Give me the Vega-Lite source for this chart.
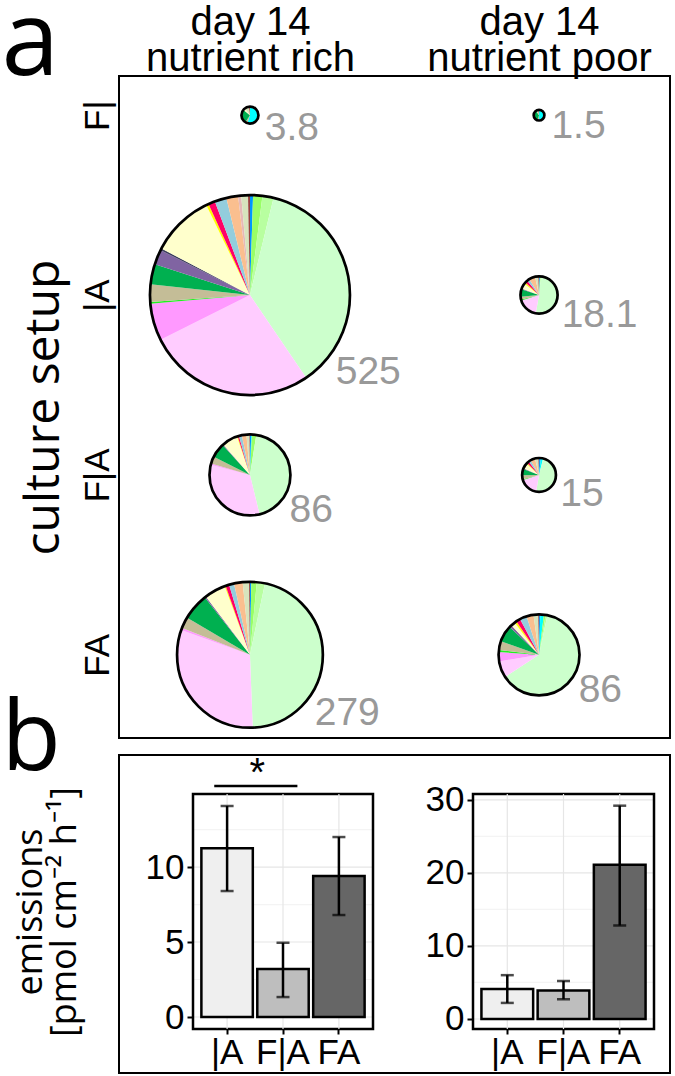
{
  "$schema": "https://vega.github.io/schema/vega-lite/v6.json",
  "padding": {"left": 0, "top": -10, "right": 0, "bottom": 0},
  "bounds": "flush",
  "spacing": 17,
  "config": {
    "view": {"stroke": "black", "strokeWidth": 2},
    "font": "Liberation Sans",
    "axis": {"grid": false, "labelColor": "black", "titleColor": "black", "tickColor": "black", "domainColor": "black", "titleFontWeight": "normal", "labelFont": "Liberation Sans"}
  },
  "datasets": {
    "pies": [
      {"pie": "rF", "cond": "nutrient rich", "setup": "F|", "total": 3.8},
      {"pie": "rA", "cond": "nutrient rich", "setup": "|A", "total": 525},
      {"pie": "rFsA", "cond": "nutrient rich", "setup": "F|A", "total": 86},
      {"pie": "rFA", "cond": "nutrient rich", "setup": "FA", "total": 279},
      {"pie": "pF", "cond": "nutrient poor", "setup": "F|", "total": 1.5},
      {"pie": "pA", "cond": "nutrient poor", "setup": "|A", "total": 18.1},
      {"pie": "pFsA", "cond": "nutrient poor", "setup": "F|A", "total": 15},
      {"pie": "pFA", "cond": "nutrient poor", "setup": "FA", "total": 86}
    ],
    "slices": [
      {"pie": "rA", "taxon": "t01", "pct": 0.5},
      {"pie": "rA", "taxon": "t03", "pct": 1.5},
      {"pie": "rA", "taxon": "t04", "pct": 1.8},
      {"pie": "rA", "taxon": "t05", "pct": 36.7},
      {"pie": "rA", "taxon": "t06", "pct": 27.1},
      {"pie": "rA", "taxon": "t07", "pct": 6.0},
      {"pie": "rA", "taxon": "t08", "pct": 0.3},
      {"pie": "rA", "taxon": "t09", "pct": 2.8},
      {"pie": "rA", "taxon": "t10", "pct": 3.3},
      {"pie": "rA", "taxon": "t11", "pct": 2.4},
      {"pie": "rA", "taxon": "t12", "pct": 0.3},
      {"pie": "rA", "taxon": "t13", "pct": 10.1},
      {"pie": "rA", "taxon": "t14", "pct": 0.4},
      {"pie": "rA", "taxon": "t15", "pct": 1.1},
      {"pie": "rA", "taxon": "t16", "pct": 1.9},
      {"pie": "rA", "taxon": "t17", "pct": 1.9},
      {"pie": "rA", "taxon": "t18", "pct": 0.5},
      {"pie": "rA", "taxon": "t19", "pct": 1.1},
      {"pie": "rA", "taxon": "t20", "pct": 0.3},

      {"pie": "rFA", "taxon": "t01", "pct": 0.3},
      {"pie": "rFA", "taxon": "t03", "pct": 1.2},
      {"pie": "rFA", "taxon": "t04", "pct": 1.8},
      {"pie": "rFA", "taxon": "t05", "pct": 46.1},
      {"pie": "rFA", "taxon": "t06", "pct": 31.1},
      {"pie": "rFA", "taxon": "t07", "pct": 0.5},
      {"pie": "rFA", "taxon": "t09", "pct": 2.5},
      {"pie": "rFA", "taxon": "t10", "pct": 5.9},
      {"pie": "rFA", "taxon": "t11", "pct": 0.3},
      {"pie": "rFA", "taxon": "t13", "pct": 4.7},
      {"pie": "rFA", "taxon": "t14", "pct": 0.2},
      {"pie": "rFA", "taxon": "t15", "pct": 0.8},
      {"pie": "rFA", "taxon": "t16", "pct": 1.1},
      {"pie": "rFA", "taxon": "t17", "pct": 1.9},
      {"pie": "rFA", "taxon": "t19", "pct": 1.4},
      {"pie": "rFA", "taxon": "t20", "pct": 0.2},

      {"pie": "rFsA", "taxon": "t01", "pct": 0.5},
      {"pie": "rFsA", "taxon": "t02", "pct": 0.3},
      {"pie": "rFsA", "taxon": "t03", "pct": 1.7},
      {"pie": "rFsA", "taxon": "t05", "pct": 43.7},
      {"pie": "rFsA", "taxon": "t06", "pct": 32.8},
      {"pie": "rFsA", "taxon": "t07", "pct": 0.6},
      {"pie": "rFsA", "taxon": "t09", "pct": 2.8},
      {"pie": "rFsA", "taxon": "t10", "pct": 5.8},
      {"pie": "rFsA", "taxon": "t11", "pct": 0.3},
      {"pie": "rFsA", "taxon": "t13", "pct": 6.3},
      {"pie": "rFsA", "taxon": "t14", "pct": 0.3},
      {"pie": "rFsA", "taxon": "t15", "pct": 0.5},
      {"pie": "rFsA", "taxon": "t16", "pct": 1.2},
      {"pie": "rFsA", "taxon": "t17", "pct": 1.8},
      {"pie": "rFsA", "taxon": "t19", "pct": 1.2},
      {"pie": "rFsA", "taxon": "t20", "pct": 0.2},

      {"pie": "rF", "taxon": "t02", "pct": 55},
      {"pie": "rF", "taxon": "t09", "pct": 4},
      {"pie": "rF", "taxon": "t10", "pct": 27},
      {"pie": "rF", "taxon": "t13", "pct": 4},
      {"pie": "rF", "taxon": "t19", "pct": 8},
      {"pie": "rF", "taxon": "t20", "pct": 2},

      {"pie": "pF", "taxon": "t02", "pct": 50},
      {"pie": "pF", "taxon": "t09", "pct": 5},
      {"pie": "pF", "taxon": "t10", "pct": 35},
      {"pie": "pF", "taxon": "t19", "pct": 8},
      {"pie": "pF", "taxon": "t20", "pct": 2},

      {"pie": "pA", "taxon": "t01", "pct": 0.8},
      {"pie": "pA", "taxon": "t03", "pct": 0.8},
      {"pie": "pA", "taxon": "t05", "pct": 51.2},
      {"pie": "pA", "taxon": "t06", "pct": 17.5},
      {"pie": "pA", "taxon": "t08", "pct": 0.8},
      {"pie": "pA", "taxon": "t09", "pct": 2.5},
      {"pie": "pA", "taxon": "t10", "pct": 6.4},
      {"pie": "pA", "taxon": "t11", "pct": 0.8},
      {"pie": "pA", "taxon": "t13", "pct": 4.7},
      {"pie": "pA", "taxon": "t14", "pct": 1.4},
      {"pie": "pA", "taxon": "t15", "pct": 2.2},
      {"pie": "pA", "taxon": "t16", "pct": 2.2},
      {"pie": "pA", "taxon": "t17", "pct": 5.3},
      {"pie": "pA", "taxon": "t19", "pct": 2.8},
      {"pie": "pA", "taxon": "t20", "pct": 0.6},

      {"pie": "pFsA", "taxon": "t01", "pct": 1.7},
      {"pie": "pFsA", "taxon": "t02", "pct": 2.2},
      {"pie": "pFsA", "taxon": "t05", "pct": 48.8},
      {"pie": "pFsA", "taxon": "t06", "pct": 17.5},
      {"pie": "pFsA", "taxon": "t08", "pct": 0.8},
      {"pie": "pFsA", "taxon": "t09", "pct": 3.6},
      {"pie": "pFsA", "taxon": "t10", "pct": 6.1},
      {"pie": "pFsA", "taxon": "t11", "pct": 0.8},
      {"pie": "pFsA", "taxon": "t13", "pct": 5.0},
      {"pie": "pFsA", "taxon": "t14", "pct": 1.1},
      {"pie": "pFsA", "taxon": "t15", "pct": 1.9},
      {"pie": "pFsA", "taxon": "t16", "pct": 2.2},
      {"pie": "pFsA", "taxon": "t17", "pct": 4.4},
      {"pie": "pFsA", "taxon": "t19", "pct": 3.3},
      {"pie": "pFsA", "taxon": "t20", "pct": 0.6},

      {"pie": "pFA", "taxon": "t01", "pct": 0.5},
      {"pie": "pFA", "taxon": "t02", "pct": 1.4},
      {"pie": "pFA", "taxon": "t03", "pct": 0.7},
      {"pie": "pFA", "taxon": "t04", "pct": 0.7},
      {"pie": "pFA", "taxon": "t05", "pct": 62.5},
      {"pie": "pFA", "taxon": "t06", "pct": 6.6},
      {"pie": "pFA", "taxon": "t07", "pct": 3.7},
      {"pie": "pFA", "taxon": "t08", "pct": 0.8},
      {"pie": "pFA", "taxon": "t09", "pct": 3.5},
      {"pie": "pFA", "taxon": "t10", "pct": 6.7},
      {"pie": "pFA", "taxon": "t11", "pct": 0.9},
      {"pie": "pFA", "taxon": "t13", "pct": 1.7},
      {"pie": "pFA", "taxon": "t14", "pct": 0.8},
      {"pie": "pFA", "taxon": "t15", "pct": 1.7},
      {"pie": "pFA", "taxon": "t16", "pct": 2.8},
      {"pie": "pFA", "taxon": "t17", "pct": 2.8},
      {"pie": "pFA", "taxon": "t19", "pct": 1.9},
      {"pie": "pFA", "taxon": "t20", "pct": 0.3}
    ],
    "bars": [
      {"cond": "nutrient rich", "setup": "|A", "mean": 11.25, "lo": 8.4, "hi": 14.07},
      {"cond": "nutrient rich", "setup": "F|A", "mean": 3.2, "lo": 1.33, "hi": 4.95},
      {"cond": "nutrient rich", "setup": "FA", "mean": 9.4, "lo": 6.8, "hi": 12.0},
      {"cond": "nutrient poor", "setup": "|A", "mean": 4.1, "lo": 2.2, "hi": 6.0},
      {"cond": "nutrient poor", "setup": "F|A", "mean": 3.9, "lo": 2.7, "hi": 5.2},
      {"cond": "nutrient poor", "setup": "FA", "mean": 21.1, "lo": 12.8, "hi": 29.2}
    ],
    "grid": [
      {"cond": "nutrient rich", "v": 0, "kind": "major"},
      {"cond": "nutrient rich", "v": 2.5, "kind": "minor"},
      {"cond": "nutrient rich", "v": 5, "kind": "major"},
      {"cond": "nutrient rich", "v": 7.5, "kind": "minor"},
      {"cond": "nutrient rich", "v": 10, "kind": "major"},
      {"cond": "nutrient rich", "v": 12.5, "kind": "minor"},
      {"cond": "nutrient poor", "v": 0, "kind": "major"},
      {"cond": "nutrient poor", "v": 5, "kind": "minor"},
      {"cond": "nutrient poor", "v": 10, "kind": "major"},
      {"cond": "nutrient poor", "v": 15, "kind": "minor"},
      {"cond": "nutrient poor", "v": 20, "kind": "major"},
      {"cond": "nutrient poor", "v": 25, "kind": "minor"},
      {"cond": "nutrient poor", "v": 30, "kind": "major"}
    ],
    "sig": [
      {"from": "|A", "to": "F|A", "y": 15.4, "label": "*"}
    ]
  },
  "vconcat": [
    {
      "width": 551,
      "height": 662,
      "view": {"stroke": "black", "strokeWidth": 2},
      "encoding": {
        "x": {
          "field": "cond", "type": "nominal",
          "scale": {"type": "point", "domain": ["nutrient rich", "nutrient poor"], "padding": 0.453, "align": 0.5},
          "axis": {
            "orient": "top", "labelExpr": "['day 14', datum.value]", "labelFontSize": 40, "labelFont": "Liberation Sans",
            "labelLineHeight": 36, "labelPadding": 34, "labelBaseline": "bottom", "labelLimit": 0, "ticks": false, "domain": false, "labelAngle": 0,
            "title": "a", "titleX": -118, "titleY": -2, "titleAngle": 0, "titleAlign": "left", "titleBaseline": "alphabetic",
            "titleFontSize": 104, "titleFont": "Open Sans"
          }
        },
        "y": {
          "field": "setup", "type": "nominal",
          "scale": {"type": "point", "domain": ["F|", "|A", "F|A", "FA"], "padding": 0.34, "align": 0.32},
          "axis": {
            "orient": "left", "labelAngle": 270, "labelAlign": "center", "labelBaseline": "bottom", "labelFontSize": 35,
            "labelPadding": 4, "ticks": false, "domain": false,
            "title": "culture setup", "titleFontSize": 48, "titleFont": "Open Sans", "titlePadding": 12
          }
        }
      },
      "layer": [
        {
          "data": {"name": "slices"},
          "transform": [
            {"lookup": "pie", "from": {"data": {"name": "pies"}, "key": "pie", "fields": ["cond", "setup", "total"]}},
            {"stack": "pct", "groupby": ["pie"], "sort": [{"field": "taxon", "order": "ascending"}], "as": ["s0", "s1"]}
          ],
          "mark": {"type": "arc"},
          "encoding": {
            "theta": {"field": "s0", "type": "quantitative", "stack": null, "scale": {"domain": [0, 100], "range": [0, 6.283185]}},
            "theta2": {"field": "s1"},
            "radius": {"field": "total", "type": "quantitative", "scale": {"type": "sqrt", "domain": [0, 525], "range": [0, 100]}},
            "color": {
              "field": "taxon", "type": "nominal", "legend": null,
              "scale": {
                "domain": ["t01","t02","t03","t04","t05","t06","t07","t08","t09","t10","t11","t12","t13","t14","t15","t16","t17","t18","t19","t20"],
                "range": ["#0096FF","#00FFFF","#99FF66","#B8FFA0","#CCFFCC","#FFCCFF","#FF99FF","#22EE22","#C4BD97","#00B050","#8064A2","#404060","#FFFFCC","#FFFF00","#FF0066","#93CDDD","#FABF8F","#E6B9B8","#D7E4BD","#953735"]
              }
            }
          }
        },
        {
          "data": {"name": "pies"},
          "mark": {"type": "point", "shape": "circle", "filled": false, "stroke": "black", "strokeWidth": 2.7, "opacity": 1},
          "encoding": {
            "size": {"field": "total", "type": "quantitative", "legend": null, "scale": {"type": "linear", "domain": [0, 525], "range": [0, 40000]}}
          }
        },
        {
          "data": {"name": "pies"},
          "mark": {"type": "text", "theta": 2.3, "align": "left", "baseline": "middle", "fontSize": 39, "color": "#999999", "font": "Liberation Sans"},
          "encoding": {
            "radius": {"field": "total", "type": "quantitative", "scale": {"type": "sqrt", "domain": [0, 525], "range": [11, 115], "zero": false}},
            "text": {"field": "total", "type": "quantitative"}
          }
        }
      ],
      "resolve": {"scale": {"radius": "independent"}}
    },
    {
      "width": 551,
      "height": 318,
      "view": {"stroke": "black", "strokeWidth": 2},
      "layer": [
        {
          "data": {"name": "grid"},
          "transform": [{"filter": "datum.cond == 'nutrient rich'"}],
          "layer": [
            {
              "mark": {"type": "rule", "strokeWidth": 1.2},
              "encoding": {
                "x": {"datum": 0, "type": "quantitative", "scale": {"domain": [0, 1], "range": [74, 254]}, "axis": null},
                "x2": {"datum": 1},
                "y": {"field": "v", "type": "quantitative", "scale": {"domain": [-0.8, 14.87], "range": [274, 39], "nice": false, "zero": false}, "axis": null},
                "color": {"field": "kind", "type": "nominal", "legend": null, "scale": {"domain": ["major", "minor"], "range": ["#E6E6E6", "#F4F4F4"]}}
              }
            },
            {
              "data": {"values": [{}]},
              "mark": {"type": "rect", "filled": false, "stroke": "black", "strokeWidth": 2.5},
              "encoding": {
                "x": {"datum": 0, "type": "quantitative", "axis": null},
                "x2": {"datum": 1},
                "y": {"datum": -0.8, "type": "quantitative", "axis": null},
                "y2": {"datum": 14.87}
              }
            }
          ]
        },
        {
          "data": {"name": "grid"},
          "transform": [{"filter": "datum.cond == 'nutrient poor'"}],
          "layer": [
            {
              "mark": {"type": "rule", "strokeWidth": 1.2},
              "encoding": {
                "x": {"datum": 0, "type": "quantitative", "scale": {"domain": [0, 1], "range": [354, 535]}, "axis": null},
                "x2": {"datum": 1},
                "y": {"field": "v", "type": "quantitative", "scale": {"domain": [-1.37, 30.8], "range": [274, 39], "nice": false, "zero": false}, "axis": null},
                "color": {"field": "kind", "type": "nominal", "legend": null, "scale": {"domain": ["major", "minor"], "range": ["#E6E6E6", "#F4F4F4"]}}
              }
            },
            {
              "data": {"values": [{}]},
              "mark": {"type": "rect", "filled": false, "stroke": "black", "strokeWidth": 2.5},
              "encoding": {
                "x": {"datum": 0, "type": "quantitative", "axis": null},
                "x2": {"datum": 1},
                "y": {"datum": -1.37, "type": "quantitative", "axis": null},
                "y2": {"datum": 30.8}
              }
            }
          ]
        },
        {
          "data": {"name": "bars"},
          "transform": [{"filter": "datum.cond == 'nutrient rich'"}],
          "encoding": {
            "x": {
              "field": "setup", "type": "nominal",
              "scale": {"type": "band", "domain": ["|A", "F|A", "FA"], "range": [74, 254], "paddingInner": 0.08, "paddingOuter": 0.15},
              "axis": {
                "orient": "bottom", "offset": -44, "labelAngle": 0, "labelFontSize": 35, "labelPadding": 1, "tickSize": 5, "tickWidth": 2, "domain": false,
                "title": "b", "titleX": -118, "titleY": -260, "titleAngle": 0, "titleAlign": "left", "titleBaseline": "alphabetic",
                "titleFontSize": 97, "titleFont": "Open Sans"
              }
            }
          },
          "layer": [
            {
              "mark": {"type": "rule", "color": "#E6E6E6", "strokeWidth": 1.2},
              "encoding": {"y": {"datum": -0.8, "type": "quantitative"}, "y2": {"datum": 14.87}}
            },
            {
              "mark": {"type": "bar", "stroke": "black", "strokeWidth": 2.5},
              "encoding": {
                "y": {
                  "field": "mean", "type": "quantitative",
                  "scale": {"domain": [-0.8, 14.87], "range": [274, 39], "nice": false, "zero": false},
                  "axis": {
                    "orient": "left", "offset": -74, "values": [0, 5, 10], "labelFontSize": 35, "labelPadding": 3, "tickSize": 6, "tickWidth": 2, "domain": false,
                    "title": ["emissions", "[pmol cm⁻² h⁻¹]"], "titleFontSize": 36, "titleFont": "Open Sans", "titlePadding": 62, "titleLineHeight": 34
                  }
                },
                "y2": {"datum": 0},
                "fill": {"field": "setup", "type": "nominal", "legend": null, "scale": {"domain": ["|A", "F|A", "FA"], "range": ["#EFEFEF", "#BEBEBE", "#666666"]}}
              }
            },
            {
              "mark": {"type": "rule", "color": "black", "strokeWidth": 2.5},
              "encoding": {"y": {"field": "lo", "type": "quantitative"}, "y2": {"field": "hi"}}
            },
            {
              "mark": {"type": "tick", "color": "black", "thickness": 2.5, "size": 13},
              "encoding": {"y": {"field": "lo", "type": "quantitative"}}
            },
            {
              "mark": {"type": "tick", "color": "black", "thickness": 2.5, "size": 13},
              "encoding": {"y": {"field": "hi", "type": "quantitative"}}
            },
            {
              "data": {"name": "sig"},
              "mark": {"type": "rule", "color": "black", "strokeWidth": 2.5},
              "encoding": {
                "x": {"datum": "|A", "type": "nominal", "bandPosition": 0.25},
                "x2": {"datum": "F|A", "bandPosition": 0.78},
                "y": {"field": "y", "type": "quantitative"}
              }
            },
            {
              "data": {"name": "sig"},
              "mark": {"type": "text", "fontSize": 40, "baseline": "alphabetic", "align": "center", "color": "black"},
              "encoding": {
                "x": {"datum": "F|A", "type": "nominal", "bandPosition": 0},
                "y": {"field": "y", "type": "quantitative"},
                "text": {"field": "label"}
              }
            }
          ]
        },
        {
          "data": {"name": "bars"},
          "transform": [{"filter": "datum.cond == 'nutrient poor'"}],
          "encoding": {
            "x": {
              "field": "setup", "type": "nominal",
              "scale": {"type": "band", "domain": ["|A", "F|A", "FA"], "range": [354, 535], "paddingInner": 0.08, "paddingOuter": 0.15},
              "axis": {"orient": "bottom", "offset": -44, "labelAngle": 0, "labelFontSize": 35, "labelPadding": 1, "tickSize": 5, "tickWidth": 2, "domain": false, "title": null}
            }
          },
          "layer": [
            {
              "mark": {"type": "rule", "color": "#E6E6E6", "strokeWidth": 1.2},
              "encoding": {"y": {"datum": -1.37, "type": "quantitative"}, "y2": {"datum": 30.8}}
            },
            {
              "mark": {"type": "bar", "stroke": "black", "strokeWidth": 2.5},
              "encoding": {
                "y": {
                  "field": "mean", "type": "quantitative",
                  "scale": {"domain": [-1.37, 30.8], "range": [274, 39], "nice": false, "zero": false},
                  "axis": {"orient": "left", "offset": -354, "values": [0, 10, 20, 30], "labelFontSize": 35, "labelPadding": 3, "tickSize": 6, "tickWidth": 2, "domain": false, "title": null}
                },
                "y2": {"datum": 0},
                "fill": {"field": "setup", "type": "nominal", "legend": null, "scale": {"domain": ["|A", "F|A", "FA"], "range": ["#EFEFEF", "#BEBEBE", "#666666"]}}
              }
            },
            {
              "mark": {"type": "rule", "color": "black", "strokeWidth": 2.5},
              "encoding": {"y": {"field": "lo", "type": "quantitative"}, "y2": {"field": "hi"}}
            },
            {
              "mark": {"type": "tick", "color": "black", "thickness": 2.5, "size": 13},
              "encoding": {"y": {"field": "lo", "type": "quantitative"}}
            },
            {
              "mark": {"type": "tick", "color": "black", "thickness": 2.5, "size": 13},
              "encoding": {"y": {"field": "hi", "type": "quantitative"}}
            }
          ]
        }
      ],
      "resolve": {
        "scale": {"x": "independent", "y": "independent", "fill": "independent", "color": "independent"},
        "axis": {"x": "independent", "y": "independent"}
      }
    }
  ]
}
